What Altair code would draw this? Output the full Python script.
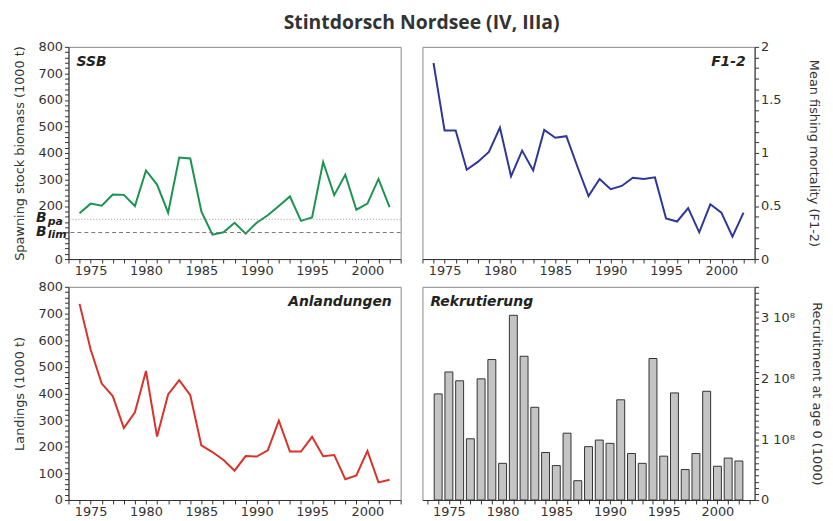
import altair as alt
import pandas as pd

years = list(range(1974, 2003))
ssb = [173, 209, 201, 243, 242, 200, 334, 281, 175, 383, 379, 180, 92, 101, 137,
       96, 137, 165, 200, 236, 144, 157, 366, 241, 318, 186, 209, 302, 196]
fbar = [1.848, 1.211, 1.211, 0.842, 0.916, 1.009, 1.239, 0.780, 1.022, 0.835, 1.217,
        1.143, 1.158, 0.870, 0.593, 0.755, 0.658, 0.689, 0.767, 0.755, 0.770, 0.382,
        0.354, 0.481, 0.252, 0.516, 0.438, 0.211, 0.438]
landings = [736, 565, 437, 390, 270, 329, 484, 238, 396, 450, 393, 205, 180, 150, 110,
            165, 163, 186, 298, 182, 182, 237, 164, 169, 78, 92, 184, 66, 76]
recruit_e8 = [1.742, 2.102, 1.957, 1.005, 1.989, 2.306, 0.602, 3.032, 2.360, 1.522,
              0.780, 0.565, 1.097, 0.317, 0.876, 0.984, 0.930, 1.645, 0.763, 0.602,
              2.323, 0.720, 1.758, 0.500, 0.763, 1.785, 0.554, 0.688, 0.640]
bpa = 150
blim = 100

df = pd.DataFrame({
    "year": years,
    "ssb": ssb,
    "f": fbar,
    "landings": landings,
    "recruit": [r * 1e8 for r in recruit_e8],
})

W = 335
H_TOP = 214
H_BOT = 215
INK = "#333333"
TICK = 4

year_ticks = list(range(1973, 2004))
x_axis = alt.Axis(
    values=year_ticks,
    labelExpr="datum.value % 5 === 0 ? datum.label : ''",
    format="d",
    labelOverlap=False,
    labelFlush=False,
    tickSize=TICK,
    title=None,
)
x_enc = alt.X("year:Q", scale=alt.Scale(domain=[1973, 2003], nice=False, zero=False), axis=x_axis)


def panel_label(text, right=False):
    return alt.Chart(pd.DataFrame({"t": [text]})).mark_text(
        font="DejaVu Sans", fontSize=14, fontWeight="bold", fontStyle="italic",
        color="#222222", align="right" if right else "left", baseline="alphabetic",
    ).encode(
        text="t:N",
        x=alt.value(W - 9 if right else 8),
        y=alt.value(19),
    )


def hundred_axis(title, skip_100=False):
    cond = "datum.value % 100 === 0"
    if skip_100:
        cond += " && datum.value !== 100"
    return alt.Axis(
        values=list(range(0, 801, 20)),
        labelExpr=cond + " ? datum.label : ''",
        format="d",
        labelOverlap=False,
        labelFlush=False,
        tickSize=TICK,
        title=title,
        titlePadding=12,
    )


ssb_scale = alt.Scale(domain=[0, 800], nice=False)
ssb_axis = hundred_axis("Spawning stock biomass (1000 t)", skip_100=True)

# SSB panel
ssb_line = alt.Chart(df).mark_line(color="#1a9450", strokeWidth=2).encode(
    x=x_enc, y=alt.Y("ssb:Q", scale=ssb_scale, axis=ssb_axis))
refs = pd.DataFrame({"ssb": [bpa, blim], "main": ["B", "B"], "sub": ["pa", "lim"]})
ref_y = alt.Y("ssb:Q", scale=ssb_scale, axis=ssb_axis)
bpa_rule = alt.Chart(refs.iloc[[0]]).mark_rule(color="#999999", strokeDash=[1, 2], strokeWidth=1).encode(y=ref_y)
blim_rule = alt.Chart(refs.iloc[[1]]).mark_rule(color="#777777", strokeDash=[4, 3], strokeWidth=1).encode(y=ref_y)
b_main = alt.Chart(refs).mark_text(
    font="DejaVu Sans", fontSize=14, fontWeight="bold", fontStyle="italic", color="#222222",
    align="right", baseline="middle", dy=-1,
).encode(text="main:N", x=alt.value(-22), y=ref_y)
b_sub = alt.Chart(refs).mark_text(
    font="DejaVu Sans", fontSize=11, fontWeight="bold", fontStyle="italic", color="#222222",
    align="left", baseline="middle", dy=3,
).encode(text="sub:N", x=alt.value(-21), y=ref_y)
ssb_chart = alt.layer(ssb_line, bpa_rule, blim_rule, b_main, b_sub, panel_label("SSB")).properties(
    width=W, height=H_TOP)

# F panel
f_y = alt.Y(
    "f:Q",
    scale=alt.Scale(domain=[0, 2], nice=False),
    axis=alt.Axis(
        orient="right",
        values=[round(i * 0.1, 1) for i in range(21)],
        labelExpr="round(datum.value * 10) % 5 === 0 ? format(datum.value, '~g') : ''",
        labelOverlap=False,
        labelFlush=False,
        tickSize=TICK,
        title="Mean fishing mortality (F1-2)",
        titlePadding=26,
    ),
)
f_line = alt.Chart(df).mark_line(color="#2f3699", strokeWidth=2).encode(x=x_enc, y=f_y)
f_chart = alt.layer(f_line, panel_label("F1-2", right=True)).properties(width=W, height=H_TOP)

# Landings panel
l_y = alt.Y("landings:Q", scale=alt.Scale(domain=[0, 800], nice=False),
            axis=hundred_axis("Landings (1000 t)"))
l_line = alt.Chart(df).mark_line(color="#d8322a", strokeWidth=2).encode(x=x_enc, y=l_y)
l_chart = alt.layer(l_line, panel_label("Anlandungen", right=True)).properties(width=W, height=H_BOT)

# Recruitment panel
r_vals = [i * 10_000_000 for i in range(36)]
r_y = alt.Y(
    "recruit:Q",
    scale=alt.Scale(domain=[0, 350_000_000], nice=False),
    axis=alt.Axis(
        orient="right",
        values=r_vals,
        labelExpr="datum.value === 0 ? '0' : (round(datum.value / 1e7) % 10 === 0 ? format(datum.value / 1e8, 'd') + ' 10\u2078' : '')",
        labelOverlap=False,
        labelFlush=False,
        tickSize=TICK,
        title="Recruitment at age 0 (1000)",
        titlePadding=15,
    ),
)
r_bars = alt.Chart(df).mark_bar(size=8, fill="#c4c4c4", stroke="#333333", strokeWidth=1).encode(x=x_enc, y=r_y)
r_chart = alt.layer(r_bars, panel_label("Rekrutierung")).properties(width=W, height=H_BOT)

chart = alt.vconcat(
    alt.hconcat(ssb_chart, f_chart, spacing=20),
    alt.hconcat(l_chart, r_chart, spacing=20),
    spacing=1,
).properties(
    title=alt.TitleParams(
        "Stintdorsch Nordsee (IV, IIIa)", font="Open Sans", fontSize=19.5, fontWeight="bold",
        color=INK, anchor="middle", offset=7, dx=4,
    ),
    padding={"left": 4, "top": 3, "right": 2, "bottom": 2},
).configure_axis(
    labelFont="DejaVu Sans", labelFontSize=13, labelColor=INK,
    titleFont="DejaVu Sans", titleFontSize=13, titleColor=INK, titleFontWeight="normal",
    domainColor=INK, tickColor=INK, grid=False, labelPadding=2,
).configure_view(stroke="#888888", strokeWidth=1)

chart.save("out.html", embed_options={"renderer": "svg", "actions": False})
